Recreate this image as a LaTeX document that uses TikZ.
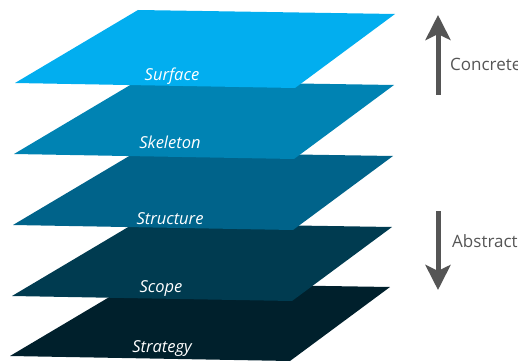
\documentclass[tikz,border=0pt]{standalone}
\usepackage{fontspec}
\setmainfont{Open Sans}
\usepackage{tikz}
\usetikzlibrary{arrows.meta}
\usetikzlibrary{calc}
\definecolor{surfaceblue}{RGB}{2,174,239}
\definecolor{skeletonblue}{RGB}{0,131,179}
\definecolor{structureblue}{RGB}{0,99,138}
\definecolor{scopeblue}{RGB}{0,59,80}
\definecolor{strategyblue}{RGB}{0,32,44}
\definecolor{arrowgray}{RGB}{85,85,85}
\tikzstyle{planetext}=[text=white, anchor=base, inner sep=0pt, font=\itshape\fontsize{16.5}{16.5}\selectfont]
\tikzstyle{sidearrow}=[draw=arrowgray, line width=5pt, -{Stealth[length=25pt,width=25pt,inset=6pt]}]
\tikzstyle{sidetext}=[text=arrowgray, anchor=base west, inner sep=0pt, font=\fontsize{17}{17}\selectfont]
\newcommand{\layerPlane}[5]{
	\fill[#1] ($#2+(138,10)$) -- ($#2+(395,14)$) -- ($#2+(295,88)$) -- ($#2+(15,83)$) -- cycle;
	\node[planetext] (#4) at ($#2+#3$) {#5};
}

\begin{document}
\begin{tikzpicture}[x=1pt, y=-1pt]
	\useasboundingbox (0,0) rectangle (518,363);
	\layerPlane{strategyblue}{(-5,273)}{(167,79)}{strategy}{Strategy}
	\layerPlane{scopeblue}{(-3,213)}{(164,79)}{scope}{Scope}
	\layerPlane{structureblue}{(-2,142)}{(172,82)}{structure}{Structure}
	\layerPlane{skeletonblue}{(-1,71)}{(171,78)}{skeleton}{Skeleton}
	\layerPlane{surfaceblue}{(0,0)}{(172,81)}{surface}{Surface}
	\coordinate (concreteBot) at (438,95);
	\coordinate (concreteTop) at (438,15);
	\coordinate (abstractTop) at (438,211);
	\coordinate (abstractBot) at (438,290);
	\draw[sidearrow] (concreteBot) -- (concreteTop);
	\draw[sidearrow] (abstractTop) -- (abstractBot);
	\node[sidetext] (concrete) at (450,71) {Concrete};
	\node[sidetext] (abstract) at (452,247) {Abstract};
\end{tikzpicture}
\end{document}
